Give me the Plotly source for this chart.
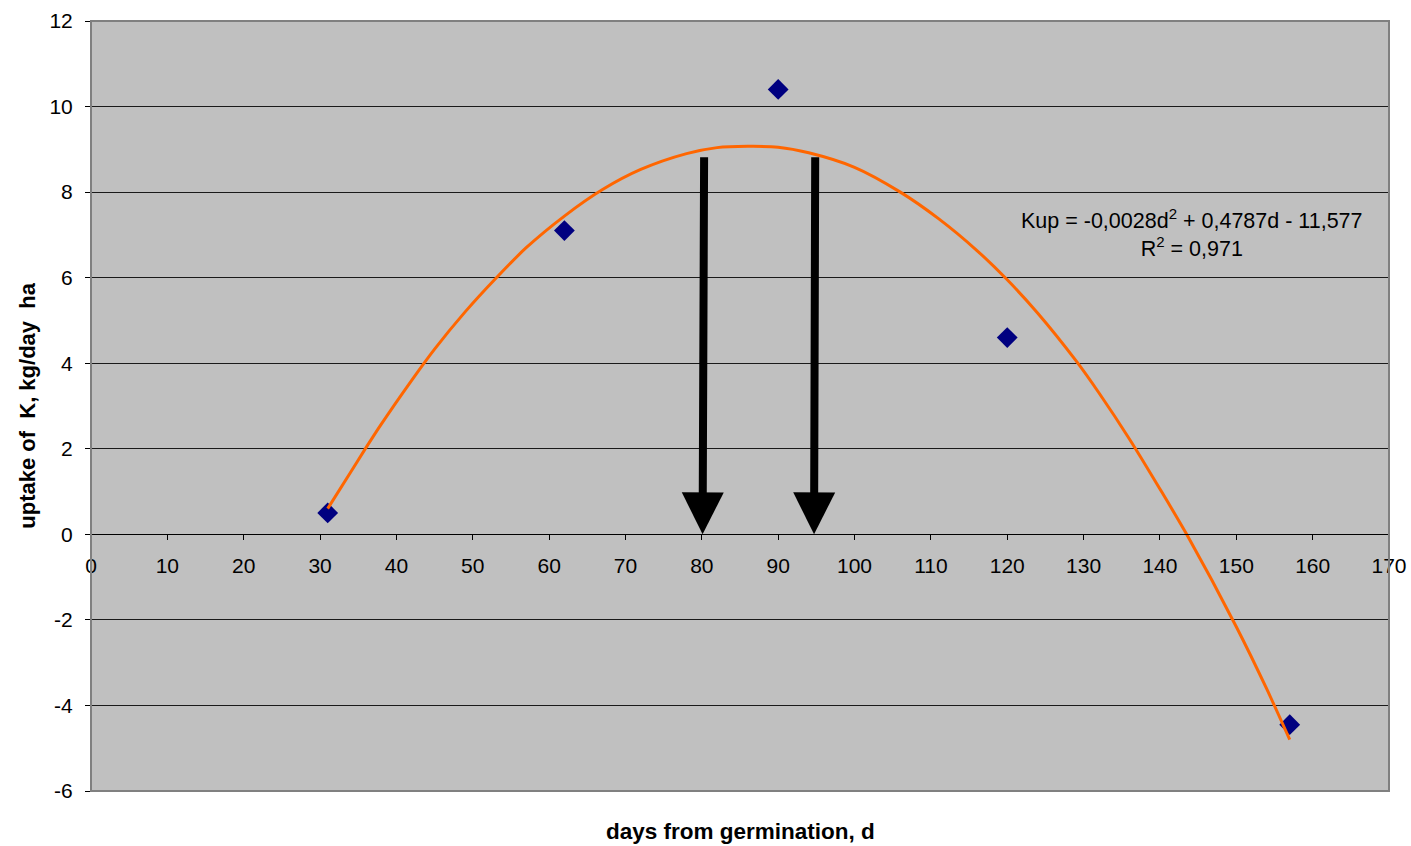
import plotly.graph_objects as go

# measured data points
days = [31, 62, 90, 120, 157]
uptake = [0.5, 7.1, 10.4, 4.6, -4.45]

# trend curve
curve_days = [31, 34, 36, 38, 42, 45, 49, 53, 57, 62, 67, 72, 78, 82, 86, 90,
              94, 100, 106, 111, 116, 120, 124, 129, 132, 136, 140, 143.5, 150, 154, 157]
curve_uptake = [0.6, 1.45, 2.02, 2.57, 3.6, 4.33, 5.2, 5.98, 6.7, 7.44, 8.06, 8.53, 8.9, 9.04,
                9.07, 9.05, 8.92, 8.58, 8.0, 7.38, 6.64, 5.95, 5.17, 4.06, 3.31, 2.23, 1.06,
                0.0, -2.16, -3.62, -4.8]

# arrows
arrow_tail_x = [80.3, 94.85]
arrow_tip_x = [80.1, 94.7]
arrow_top = 8.85
arrow_bottom = 0

x_ticks = list(range(0, 171, 10))
y_ticks = list(range(-6, 13, 2))

equation_text = "Kup = -0,0028d<sup>2</sup> + 0,4787d - 11,577<br>R<sup>2</sup> = 0,971"
eq_pos = (144.2, 7.05)
x_title = "days from germination, d"
y_title = "uptake of  K, kg/day  ha"

FONT = "Liberation Sans, Arial, sans-serif"

fig = go.Figure()
fig.add_trace(go.Scatter(x=days, y=uptake, mode="markers",
                         marker=dict(symbol="diamond", size=16, color="#000080",
                                     line=dict(width=0)),
                         showlegend=False, hoverinfo="x+y"))
fig.add_trace(go.Scatter(x=curve_days, y=curve_uptake, mode="lines",
                         line=dict(color="#FF6600", width=3, shape="spline", smoothing=0.8),
                         showlegend=False, hoverinfo="skip"))

annotations = []
for tx, hx in zip(arrow_tail_x, arrow_tip_x):
    annotations.append(dict(x=hx, y=arrow_bottom, ax=tx, ay=arrow_top,
                            xref="x", yref="y", axref="x", ayref="y",
                            text="", showarrow=True, arrowhead=2, arrowsize=1.05,
                            arrowwidth=8, arrowcolor="black", standoff=0))
annotations.append(dict(x=eq_pos[0], y=eq_pos[1], xref="x", yref="y",
                        text=equation_text, showarrow=False, align="center",
                        font=dict(family=FONT, size=21.5, color="black")))
annotations.append(dict(x=0.5, y=-0.053, xref="paper", yref="paper",
                        text="<b>" + x_title + "</b>", showarrow=False,
                        xanchor="center", yanchor="middle",
                        font=dict(family=FONT, size=22.5, color="black")))
annotations.append(dict(x=-0.0495, y=0.5, xref="paper", yref="paper",
                        text="<b>" + y_title + "</b>", showarrow=False, textangle=-90,
                        xanchor="center", yanchor="middle",
                        font=dict(family=FONT, size=22, color="black")))

fig.update_layout(
    width=1411, height=846,
    margin=dict(l=91, r=22, t=21, b=55, autoexpand=False),
    paper_bgcolor="white",
    plot_bgcolor="#C0C0C0",
    font=dict(family=FONT, size=21, color="black"),
    annotations=annotations,
    shapes=[dict(type="rect", xref="paper", yref="paper", x0=0, y0=0, x1=1, y1=1,
                 line=dict(color="#808080", width=2), layer="above")],
    xaxis=dict(range=[0, 170], tickvals=x_ticks, ticktext=[str(v) for v in x_ticks],
               anchor="free", position=6 / 18, showgrid=False, zeroline=False,
               showline=True, linecolor="black", linewidth=1, automargin=False,
               ticks="outside", ticklen=5, tickcolor="black", tickwidth=1,
               ticklabelstandoff=7, tickfont=dict(size=21), layer="above traces"),
    yaxis=dict(range=[-6, 12], tickvals=y_ticks, ticktext=[str(v) for v in y_ticks],
               showgrid=True, gridcolor="#1a1a1a", gridwidth=1, zeroline=False,
               showline=True, linecolor="black", linewidth=1, automargin=False,
               ticks="outside", ticklen=5, tickcolor="black", tickwidth=1,
               ticklabelstandoff=8, tickfont=dict(size=21)),
)

fig.write_html("out.html")
